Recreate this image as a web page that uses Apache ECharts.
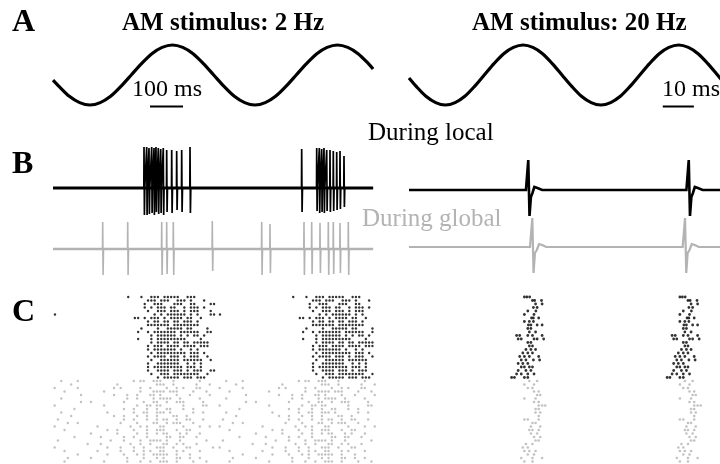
<!DOCTYPE html>
<html>
<head>
<meta charset="utf-8">
<script src="https://cdn.jsdelivr.net/npm/echarts@6/dist/echarts.min.js"></script>
<style>
  html, body { margin: 0; padding: 0; background: #fff; }
  #chart { width: 720px; height: 464px; }
</style>
</head>
<body>
<div id="chart"></div>
<script>
// ---------- Stimulus envelopes: [time (ms), normalised amplitude] ----------
const stimulus2Hz = [
  [0, -0.17], [18.25, -0.38], [49.5, -0.71], [80.75, -0.92], [112, -1], [143.25, -0.92],
  [174.5, -0.71], [205.75, -0.38], [237, 0], [268.25, 0.38], [299.5, 0.71], [330.75, 0.92],
  [362, 1], [393.25, 0.92], [424.5, 0.71], [455.75, 0.38], [487, 0], [518.25, -0.38],
  [549.5, -0.71], [580.75, -0.92], [612, -1], [643.25, -0.92], [674.5, -0.71], [705.75, -0.38],
  [737, 0], [768.25, 0.38], [799.5, 0.71], [830.75, 0.92], [862, 1], [893.25, 0.92],
  [924.5, 0.71], [955.75, 0.38], [970, 0.2]
];
const stimulus20Hz = [
  [0, -0.1], [2.33, -0.38], [5.45, -0.71], [8.58, -0.92], [11.7, -1], [14.83, -0.92],
  [17.95, -0.71], [21.08, -0.38], [24.2, 0], [27.33, 0.38], [30.45, 0.71], [33.58, 0.92],
  [36.7, 1], [39.83, 0.92], [42.95, 0.71], [46.08, 0.38], [49.2, 0], [52.33, -0.38],
  [55.45, -0.71], [58.58, -0.92], [61.7, -1], [64.83, -0.92], [67.95, -0.71], [71.08, -0.38],
  [74.2, 0], [77.33, 0.38], [80.45, 0.71], [83.58, 0.92], [86.7, 1], [89.83, 0.92],
  [92.95, 0.71], [96.08, 0.38], [99.2, 0], [102.33, -0.38]
];
const scaleBar2Hz = 100;   // ms
const scaleBar20Hz = 10;   // ms

// ---------- Example recordings ----------
// 2 Hz: [spike time (ms), positive peak, negative peak]
const localSpikes2Hz = [
  [275.8, 41, 27], [283.9, 41, 27], [290.9, 40, 26], [299.1, 41, 25], [306.1, 40, 27],
  [312.1, 41, 24], [319.1, 40, 26], [326.4, 39, 25], [334.2, 40, 27], [344.5, 38, 24],
  [359.7, 38, 25], [374.8, 37, 22], [390.0, 38, 24], [415.2, 41, 25],
  [753.6, 39, 24], [799.1, 40, 23], [807.0, 40, 25], [814.2, 39, 24], [821.2, 40, 25],
  [829.4, 38, 23], [839.4, 38, 24], [849.4, 37, 23], [859.7, 36, 22], [869.7, 37, 21],
  [881.8, 32, 19]
];
const globalSpikes2Hz = [
  [150.6, 27, 26], [226.4, 27, 26], [329.4, 27, 26], [344.5, 27, 25], [364.6, 27, 26],
  [482.7, 28, 22], [632.4, 27, 26], [657.6, 25, 24], [760.6, 27, 26], [783.9, 27, 25],
  [809.1, 26, 24], [834.3, 27, 26], [849.4, 27, 25], [869.7, 26, 24], [894.9, 27, 26]
];
const traceEnd2Hz = 970;

// 20 Hz: spike times (ms) and the averaged spike waveform [offset (ms), amplitude]
const localSpikes20Hz = [38.3, 89.9];
const globalSpikes20Hz = [39.6, 88.7];
const localWaveform20Hz = [[-0.7, 0], [-0.25, -1.5], [0.05, 30], [0.45, -26], [0.9, -7], [1.4, -3], [2.0, 3], [3.0, 2], [4.5, 0]];
const globalWaveform20Hz = [[-0.7, 0], [-0.25, 0], [0.05, 29], [0.45, -26], [0.9, -6], [1.5, -3], [2.2, 3], [3.2, 2], [4.5, 0]];
const traceEnd20Hz = 100;

// ---------- Rasters ----------
// 2 Hz: one stimulus cycle per trial, 10 ms bins ('*' = spike)
const localRaster2HzStart = 228;  // ms of the first bin
const localRaster2Hz = [
  "*   *  *** *****  ***      ",
  "      *** ***  *** *   *   ",
  "     *  ***   ***  **    **",
  "     * * *** **  * *** *   ",
  "      *  *** *** * ***   * ",
  "        * * ****** * *   **",
  "  ** * *** * **** **  *    ",
  "      * ** ** ** *** *     ",
  "      ******* ********     ",
  "    *    *  ***** **    *  ",
  "   *  * ******* ******  ** ",
  "       * ****** * * ** *   ",
  "   *   * *********    *    ",
  "       * **** ** ** *****  ",
  "      * *** **** **** ***  ",
  "      * ******* *  * *     ",
  "       * ********* *** *   ",
  "      * **** *** * ***  *  ",
  "       *  ****** ******  * ",
  "      *  *******  * * *    ",
  "      * ********* *** *    ",
  "      *  **** *** * ***  **",
  "       *  *** ********  *  ",
  "         * ***** *** ***   "
];
const localRaster2HzExtra = [[6, 6]];  // [ms, trial]
const globalRaster2HzStart = 5;
const globalRaster2Hz = [
  "  *    *                * **  ***   *       *     ",
  "     *             *           ***  *      *   *  ",
  "*      *          * *     *  *    *  * *   **     ",
  "   *           *          *   **** ***    *   *  ",
  "        *         *   *  *   ** *    *   *     * ",
  "  *                   *  *    * ****  *     *    ",
  "        *  *         *     *  **  *  ***     *   ",
  "*              *         *  ** **      *     **  ",
  "      *              *  *   *  *  **   *  *      ",
  "  *             *       *  **  *** *      *  *   ",
  "     *            *  *   *  *  *    **  *        ",
  " *                   *  *   *  * **  *  **   *   ",
  "    *  *            *    *    **  * ***   *      ",
  "*            *         *  * *   **     *    *  * ",
  "   *            *  *    *   *  ***   *  **       ",
  "           *       *     *  *  * **   * *   *    ",
  "      *       *      *  *   *     **  **   *     ",
  " *               *   *    *  **** *   *       *  ",
  "          *   *        *  *  *   **  * *   *     ",
  "*               *   *   *  *   ***  *   **      *",
  "   *         *      *   *  * *  **   * *    *    ",
  "       *        *    *   * *  *****  *   *       ",
  "    *      *          *    *   * *   **  *  *    ",
  "   *           *      *   *  *  ***  *    *   *  "
];
const period2Hz = 500;
const rasterEnd2Hz = 975;

// 20 Hz: spike times (ms) within one cycle, per trial
const localRaster20Hz = [
  [37.1, 37.9, 38.8], [39.7, 40.4, 42.6], [40.7, 42.8], [40.0, 41.2], [38.2, 40.8],
  [37.1, 40.2], [39.4, 40.0, 41.7], [37.1, 38.7, 40.0], [38.4, 39.2, 41.2, 42.8],
  [38.2, 39.2], [38.7, 40.7], [34.6, 35.6, 38.2, 39.7, 42.8], [35.1, 36.1, 40.2, 41.2, 43.3],
  [38.2, 39.2], [38.7, 39.7], [37.6, 39.2, 40.7], [36.6, 38.2, 39.7], [35.6, 37.1, 38.7, 41.7],
  [36.1, 37.6, 40.0, 42.0], [35.1, 36.6, 38.2], [36.1, 37.1, 38.7, 39.7], [35.1, 37.6, 39.2],
  [34.6, 36.1, 38.2, 40.2], [33.0, 33.9, 37.1, 38.2]
];
const globalRaster20Hz = [
  [38.7, 41.2], [37.1, 40.2], [38.2, 39.7], [40.2, 41.7], [41.2, 42.2], [37.1, 40.7],
  [40.2, 41.7], [41.7, 42.8, 43.8], [40.7, 41.7], [40.7, 42.2], [41.7], [37.1, 38.2, 41.7],
  [39.7, 40.7], [39.2, 42.2], [38.7, 39.7, 41.7], [39.2, 41.2], [40.2, 42.2], [40.7, 41.7],
  [37.6, 39.7], [36.6, 38.2], [37.1, 38.7, 40.7], [38.2, 40.2], [36.1, 39.7, 42.8], [37.1, 39.7]
];
const period20Hz = 50;

// ---------- Styling ----------
const SERIF = '"Liberation Serif", "Times New Roman", serif';
const BLACK = '#000000';
const GREY = '#b3b3b3';
const GREY_DOT = '#b3b3b3';

// ---------- Data builders ----------
function spikeTrace2Hz(spikes, end) {
  const pts = [[0, 0]];
  spikes.forEach(([t, up, down]) => {
    pts.push([t - 0.6, 0], [t, up], [t + 1.2, -down], [t + 2.4, 0]);
  });
  pts.push([end, 0]);
  return pts;
}
function spikeTrace20Hz(times, waveform, end) {
  const pts = [[0, 0]];
  times.forEach(t => waveform.forEach(([dt, v]) => pts.push([t + dt, v])));
  pts.push([end, 0]);
  return pts;
}
function patternRaster(rows, start, bin, firstTrial, period, end) {
  const out = [];
  rows.forEach((row, r) => {
    for (let i = 0; i < row.length; i++) {
      if (row[i] !== '*') continue;
      for (let c = 0; c < 2; c++) {
        const t = start + i * bin + c * period;
        if (t <= end) out.push([t, firstTrial + r]);
      }
    }
  });
  return out;
}
function listRaster(trials, firstTrial, period, end) {
  const out = [];
  trials.forEach((spikes, r) => spikes.forEach(t => {
    for (let c = 0; c < 2; c++) {
      const tt = t + c * period;
      if (tt <= end) out.push([tt, firstTrial + r]);
    }
  }));
  return out;
}
function extraRaster(list, period, end) {
  const out = [];
  list.forEach(([t, trial]) => {
    for (let c = 0; c < 2; c++) if (t + c * period <= end) out.push([t + c * period, trial]);
  });
  return out;
}

// ---------- Layout ----------
// Left column: 0–1000 ms over 330 px; right column: 0–100 ms over 326 px.
const L = { left: 53, width: 330 };
const R = { left: 409, width: 326 };
const grids = [
  { ...L, top: 45, height: 61.5 },   // 0 stimulus 2 Hz
  { ...R, top: 45, height: 61.5 },   // 1 stimulus 20 Hz
  { ...L, top: 147, height: 68 },    // 2 local trace 2 Hz
  { ...L, top: 222, height: 54 },    // 3 global trace 2 Hz
  { ...R, top: 160, height: 56 },    // 4 local trace 20 Hz
  { ...R, top: 218, height: 55 },    // 5 global trace 20 Hz
  { ...L, top: 295.25, height: 168 },// 6 raster 2 Hz
  { ...R, top: 295.25, height: 168 } // 7 raster 20 Hz
];
const xRanges = [[0, 1000], [0, 100], [0, 1000], [0, 1000], [0, 100], [0, 100], [0, 1000], [0, 100]];
const yRanges = [[-1.05, 1], [-1.05, 1], [-27, 41], [-27, 27], [-26, 30], [-26, 29], [0.5, 48.5], [0.5, 48.5]];

const xAxis = grids.map((g, i) => ({
  type: 'value', gridIndex: i, min: xRanges[i][0], max: xRanges[i][1], show: false
}));
const yAxis = grids.map((g, i) => ({
  type: 'value', gridIndex: i, min: yRanges[i][0], max: yRanges[i][1], show: false,
  inverse: i >= 6
}));

function line(idx, data, color, width, extra) {
  return Object.assign({
    type: 'line', xAxisIndex: idx, yAxisIndex: idx, data,
    showSymbol: false, symbol: 'none', clip: false, silent: true,
    lineStyle: { color, width, cap: 'butt', join: 'miter' }
  }, extra || {});
}
function dots(idx, data, color, size) {
  return {
    type: 'scatter', xAxisIndex: idx, yAxisIndex: idx, data, symbol: 'circle',
    symbolSize: size, itemStyle: { color }, silent: true, clip: false
  };
}

const bar2Start = 294, bar20Start = 81.6;

const series = [
  line(0, stimulus2Hz, BLACK, 3.2, { smooth: 0.3, lineStyle: { color: BLACK, width: 3.2, join: 'round' } }),
  line(0, [[bar2Start, -1.05], [bar2Start + scaleBar2Hz, -1.05]], BLACK, 2),
  line(1, stimulus20Hz, BLACK, 3.2, { smooth: 0.3, lineStyle: { color: BLACK, width: 3.2, join: 'round' } }),
  line(1, [[bar20Start, -1.05], [bar20Start + scaleBar20Hz, -1.05]], BLACK, 2),

  line(2, [[0, 0], [traceEnd2Hz, 0]], BLACK, 3),
  line(2, spikeTrace2Hz(localSpikes2Hz, traceEnd2Hz), BLACK, 1.7),
  line(3, [[0, 0], [traceEnd2Hz, 0]], GREY, 2.4),
  line(3, spikeTrace2Hz(globalSpikes2Hz, traceEnd2Hz), GREY, 1.6),

  line(4, spikeTrace20Hz(localSpikes20Hz, localWaveform20Hz, traceEnd20Hz), BLACK, 2.6),
  line(5, spikeTrace20Hz(globalSpikes20Hz, globalWaveform20Hz, traceEnd20Hz), GREY, 2.2),

  dots(6, patternRaster(localRaster2Hz, localRaster2HzStart, 10, 1, period2Hz, rasterEnd2Hz)
        .concat(extraRaster(localRaster2HzExtra, period2Hz, rasterEnd2Hz)), BLACK, 2.4),
  dots(6, patternRaster(globalRaster2Hz, globalRaster2HzStart, 10, 25, period2Hz, rasterEnd2Hz), GREY_DOT, 2.4),
  dots(7, listRaster(localRaster20Hz, 1, period20Hz, 100), BLACK, 2.8),
  dots(7, listRaster(globalRaster20Hz, 25, period20Hz, 100), GREY_DOT, 2.6)
];

function txt(x, y, text, font, fill) {
  return {
    type: 'text', x, y, silent: true,
    style: { text, font, fill, textAlign: 'left', textVerticalAlign: 'middle', align: 'left', verticalAlign: 'middle' }
  };
}
const graphic = [
  txt(12, 23, 'A', 'bold 32px ' + SERIF, BLACK),
  txt(12, 165, 'B', 'bold 32px ' + SERIF, BLACK),
  txt(12, 313, 'C', 'bold 32px ' + SERIF, BLACK),
  txt(122, 24, 'AM stimulus: 2 Hz', 'bold 25px ' + SERIF, BLACK),
  txt(472, 24, 'AM stimulus: 20 Hz', 'bold 25px ' + SERIF, BLACK),
  txt(132, 90, '100 ms', '24px ' + SERIF, BLACK),
  txt(662, 90, '10 ms', '24px ' + SERIF, BLACK),
  txt(368, 133, 'During local', '25px ' + SERIF, BLACK),
  txt(362, 219, 'During global', '25px ' + SERIF, GREY)
];

const chart = echarts.init(document.getElementById('chart'), null, { renderer: 'canvas' });
chart.setOption({
  animation: false,
  backgroundColor: '#ffffff',
  grid: grids,
  xAxis, yAxis, series, graphic
});
</script>
</body>
</html>
